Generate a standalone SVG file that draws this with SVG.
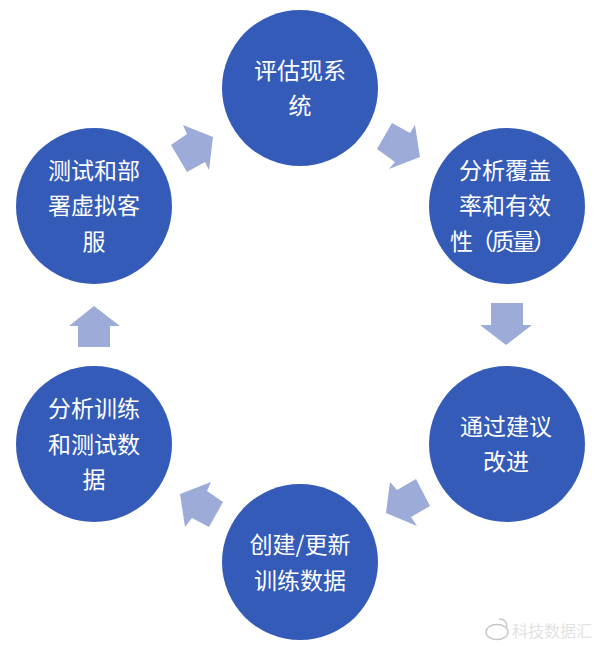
<svg xmlns="http://www.w3.org/2000/svg" width="600" height="647" viewBox="0 0 600 647">
<style>
.n{fill:#345bb7}
.t{font-family:"Noto Sans CJK SC","Liberation Sans",sans-serif;font-size:23px;fill:#fff;text-anchor:middle}
.a{fill:#9dabd8}
.w{font-family:"Noto Sans CJK SC","Liberation Sans",sans-serif;font-size:16px;fill:#e2e2e2}
</style>
<rect width="600" height="647" fill="#fff"/>
<g id="connectors">
<polygon class="a" points="415,125 420,157 389,169 395,162 377,149 392,123 410,133"/>
<polygon class="a" points="491,303 523,303 523,325 532,325 506,345 480,325 491,325"/>
<polygon class="a" points="390,482 397,490 416,479 430,506 411,517 417,526 386,513"/>
<polygon class="a" points="180,494 211,482 207,491 223,502 209,527 192,518 185,527"/>
<polygon class="a" points="94,306 120,326 110,326 110,347 78,347 78,326 69,326"/>
<polygon class="a" points="213,137 209,170 205,162 187,172 171,145 187,134 183,125"/>
</g>
<g id="node1"><circle class="n" cx="300" cy="88" r="78"/><text class="t" x="300" y="79">评估现系</text><text class="t" x="300" y="114">统</text></g>
<g id="node2"><circle class="n" cx="507" cy="206" r="78"/><text class="t" x="505" y="179">分析覆盖</text><text class="t" x="505" y="214">率和有效</text><text class="t" x="450" y="250" style="text-anchor:start" textLength="106">性（质量）</text></g>
<g id="node3"><circle class="n" cx="507" cy="444" r="78"/><text class="t" x="506" y="435">通过建议</text><text class="t" x="506" y="470">改进</text></g>
<g id="node4"><circle class="n" cx="300" cy="562" r="78"/><text class="t" x="300" y="553">创建/更新</text><text class="t" x="300" y="589">训练数据</text></g>
<g id="node5"><circle class="n" cx="94" cy="444" r="78"/><text class="t" x="94" y="417">分析训练</text><text class="t" x="94" y="453">和测试数</text><text class="t" x="94" y="488">据</text></g>
<g id="node6"><circle class="n" cx="94" cy="206" r="78"/><text class="t" x="94" y="179">测试和部</text><text class="t" x="94" y="214">署虚拟客</text><text class="t" x="94" y="250">服</text></g>
<g id="watermark">
<ellipse cx="497" cy="632" rx="11" ry="7.5" fill="none" stroke="#c8c8c8" stroke-width="1.5"/>
<path d="M499 619Q507 619 507 627" fill="none" stroke="#c8c8c8" stroke-width="1.5"/>
<text class="w" x="512" y="637">科技数据汇</text>
</g>
</svg>
